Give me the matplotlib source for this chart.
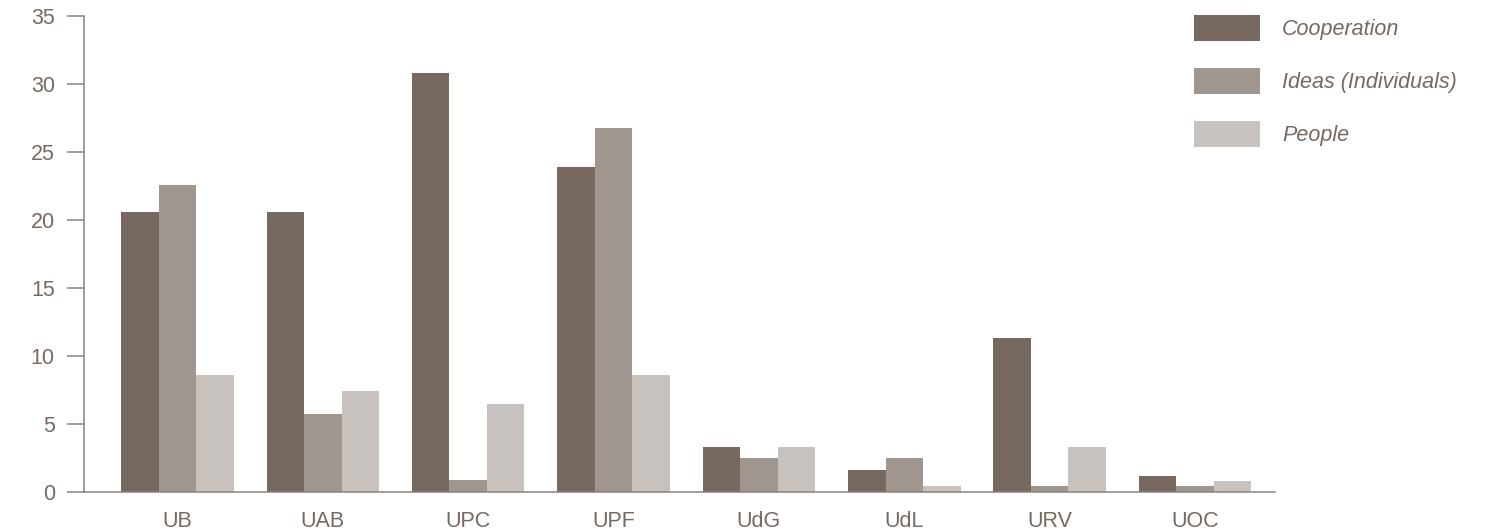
import matplotlib
matplotlib.use("Agg")
import matplotlib.pyplot as plt
import numpy as np

categories = ["UB", "UAB", "UPC", "UPF", "UdG", "UdL", "URV", "UOC"]
series_names = ["Cooperation", "Ideas (Individuals)", "People"]
cooperation = [20.6, 20.6, 30.8, 23.9, 3.3, 1.6, 11.3, 1.2]
ideas = [22.6, 5.7, 0.9, 26.8, 2.5, 2.5, 0.45, 0.45]
people = [8.6, 7.4, 6.5, 8.6, 3.3, 0.45, 3.3, 0.8]
yticks = [0, 5, 10, 15, 20, 25, 30, 35]

colors = ["#776960", "#9F968F", "#C7C2BD"]
text_color = "#776960"
axis_color = "#8C817A"

plt.rcParams["font.family"] = ["Liberation Sans", "DejaVu Sans"]

W, H = 1493, 531
fig = plt.figure(figsize=(W / 100, H / 100), dpi=100)
ax = fig.add_axes([84 / W, 1 - 492 / H, (1275 - 84) / W, (492 - 16) / H])

x = np.arange(len(categories))
bw = 0.258
for i, (vals, name) in enumerate(zip([cooperation, ideas, people], series_names)):
    ax.bar(x + (i - 1) * bw, vals, width=bw, color=colors[i], label=name,
           linewidth=0, zorder=2)

ax.set_xlim(-0.643, 7.55)
ax.set_ylim(0, 35)
ax.set_yticks(yticks)
ax.set_yticklabels([str(t) for t in yticks])
ax.set_xticks(x)
ax.set_xticklabels(categories)

for s in ["top", "right"]:
    ax.spines[s].set_visible(False)
for s in ["left", "bottom"]:
    ax.spines[s].set_color(axis_color)
    ax.spines[s].set_linewidth(1.1)

fs = 15.5
ax.tick_params(axis="y", length=12.5, width=1.1, color=axis_color,
               labelcolor=text_color, labelsize=fs, pad=8.5)
ax.tick_params(axis="x", length=0, labelcolor=text_color, labelsize=fs, pad=13.5)

fig.legend(loc="upper left", bbox_to_anchor=(1194 / W, 1 - 15 / H),
           frameon=False, borderpad=0, borderaxespad=0,
           handlelength=3.07, handleheight=1.483, labelspacing=1.26,
           handletextpad=1.02, labelcolor=text_color,
           prop={"style": "italic", "size": fs})

fig.savefig("out.png", dpi=100)
